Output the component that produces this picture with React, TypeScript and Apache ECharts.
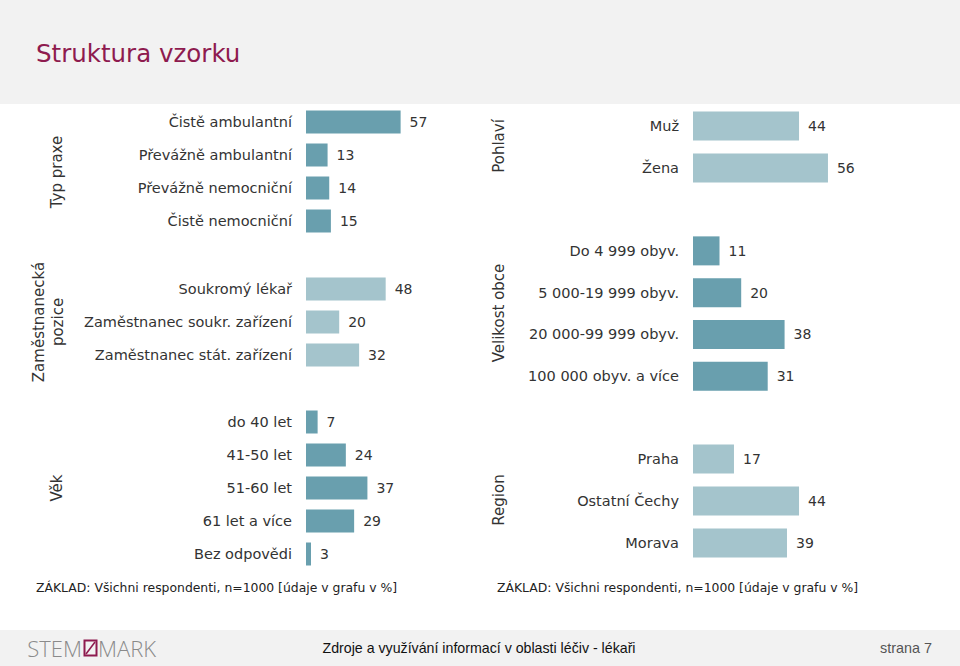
import React, { useEffect, useRef } from "react";
import * as echarts from "echarts";

const typPraxeCats = ["Čistě ambulantní", "Převážně ambulantní", "Převážně nemocniční", "Čistě nemocniční"];
const typPraxeVals = [57, 13, 14, 15];

const poziceCats = ["Soukromý lékař", "Zaměstnanec soukr. zařízení", "Zaměstnanec stát. zařízení"];
const poziceVals = [48, 20, 32];

const vekCats = ["do 40 let", "41-50 let", "51-60 let", "61 let a více", "Bez odpovědi"];
const vekVals = [7, 24, 37, 29, 3];

const pohlaviCats = ["Muž", "Žena"];
const pohlaviVals = [44, 56];

const velikostCats = ["Do 4 999 obyv.", "5 000-19 999 obyv.", "20 000-99 999 obyv.", "100 000 obyv. a více"];
const velikostVals = [11, 20, 38, 31];

const regionCats = ["Praha", "Ostatní Čechy", "Morava"];
const regionVals = [17, 44, 39];

const DARK = "#699fae";
const LIGHT = "#a4c4cc";
const TEXT = "#333333";
const FONT = "'DejaVu Sans', Verdana, sans-serif";

const panels = [
  { cats: typPraxeCats, vals: typPraxeVals, left: 306, width: 166, top: 105.5, height: 132, bw: 23, color: DARK },
  { cats: poziceCats, vals: poziceVals, left: 306, width: 166, top: 272.5, height: 99, bw: 23, color: LIGHT },
  { cats: vekCats, vals: vekVals, left: 306, width: 166, top: 405.5, height: 165, bw: 23, color: DARK },
  { cats: pohlaviCats, vals: pohlaviVals, left: 693, width: 241, top: 105, height: 84, bw: 29, color: LIGHT },
  { cats: velikostCats, vals: velikostVals, left: 693, width: 241, top: 230, height: 167, bw: 29, color: DARK },
  { cats: regionCats, vals: regionVals, left: 693, width: 241, top: 438, height: 126, bw: 29, color: LIGHT },
];

const panelTitles = [
  { text: "Typ praxe", x: 57, y: 172 },
  { text: "Zaměstnanecká\npozice", x: 48, y: 322 },
  { text: "Věk", x: 57, y: 488 },
  { text: "Pohlaví", x: 499, y: 146 },
  { text: "Velikost obce", x: 499, y: 313 },
  { text: "Region", x: 499, y: 500 },
];

export default function App() {
  const ref = useRef<HTMLDivElement>(null);
  useEffect(() => {
    if (!ref.current) return;
    const chart = echarts.init(ref.current, undefined, { renderer: "svg" });
    const option: any = {
      animation: false,
      backgroundColor: "#ffffff",
      grid: panels.map((p) => ({ left: p.left, top: p.top, width: p.width, height: p.height, containLabel: false })),
      xAxis: panels.map((_, i) => ({
        type: "value",
        gridIndex: i,
        min: 0,
        max: 100,
        show: false,
        splitLine: { show: false },
      })),
      yAxis: panels.map((p, i) => ({
        type: "category",
        gridIndex: i,
        data: p.cats,
        inverse: true,
        axisLine: { show: false },
        axisTick: { show: false },
        splitLine: { show: false },
        axisLabel: { margin: 14, fontSize: 14.5, color: TEXT, fontFamily: FONT },
      })),
      series: panels.map((p, i) => ({
        type: "bar",
        xAxisIndex: i,
        yAxisIndex: i,
        data: p.vals,
        barWidth: p.bw,
        itemStyle: { color: p.color },
        label: { show: true, position: "right", distance: 9, fontSize: 14, color: TEXT, fontFamily: FONT },
      })),
      graphic: [
        { type: "rect", z: -10, shape: { x: 0, y: 0, width: 960, height: 104 }, style: { fill: "#f2f2f2" } },
        { type: "rect", z: -10, shape: { x: 0, y: 630, width: 960, height: 36 }, style: { fill: "#f2f2f2" } },
        {
          type: "text",
          x: 36,
          y: 53,
          style: { text: "Struktura vzorku", fontSize: 24.5, fill: "#8e1b4f", fontFamily: FONT, verticalAlign: "middle" },
        },
        ...panelTitles.map((t) => ({
          type: "text",
          x: t.x,
          y: t.y,
          rotation: Math.PI / 2,
          style: {
            text: t.text,
            fontSize: 15,
            lineHeight: 19,
            fill: TEXT,
            fontFamily: FONT,
            align: "center",
            verticalAlign: "middle",
          },
        })),
        {
          type: "text",
          x: 36,
          y: 587,
          style: { text: "ZÁKLAD: Všichni respondenti, n=1000 [údaje v grafu v %]", fontSize: 12.4, fill: "#222", fontFamily: FONT, verticalAlign: "middle" },
        },
        {
          type: "text",
          x: 497,
          y: 587,
          style: { text: "ZÁKLAD: Všichni respondenti, n=1000 [údaje v grafu v %]", fontSize: 12.4, fill: "#222", fontFamily: FONT, verticalAlign: "middle" },
        },
        {
          type: "text",
          x: 479,
          y: 648,
          style: { text: "Zdroje a využívání informací v oblasti léčiv - lékaři", fontSize: 14.2, fill: "#111", fontFamily: "'Liberation Sans', Arial, sans-serif", align: "center", verticalAlign: "middle" },
        },
        {
          type: "text",
          x: 932,
          y: 648,
          style: { text: "strana 7", fontSize: 14.4, fill: "#555", fontFamily: "'Liberation Sans', Arial, sans-serif", align: "right", verticalAlign: "middle" },
        },
        {
          type: "text",
          x: 82,
          y: 648,
          style: { text: "STEM", fontSize: 22, fill: "#8a8a8a", fontFamily: "'Open Sans', sans-serif", fontWeight: 300, align: "right", verticalAlign: "middle" },
        },
        {
          type: "rect",
          shape: { x: 84.5, y: 640.5, width: 12, height: 15 },
          style: { fill: "none", stroke: "#8e1b4f", lineWidth: 2 },
        },
        {
          type: "line",
          shape: { x1: 86, y1: 654, x2: 95, y2: 642 },
          style: { stroke: "#8e1b4f", lineWidth: 1.5 },
        },
        {
          type: "text",
          x: 98,
          y: 648,
          style: { text: "MARK", fontSize: 22, fill: "#8a8a8a", fontFamily: "'Open Sans', sans-serif", fontWeight: 300, verticalAlign: "middle" },
        },
      ],
    };
    chart.setOption(option);
    return () => chart.dispose();
  }, []);
  return <div ref={ref} style={{ position: "fixed", left: 0, top: 0, width: 960, height: 666 }} />;
}
